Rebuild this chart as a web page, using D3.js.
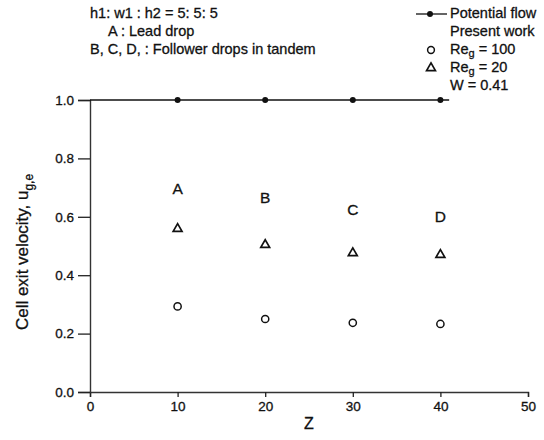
<!DOCTYPE html>
<html>
<head>
<meta charset="utf-8">
<script src="https://cdn.jsdelivr.net/npm/d3@7"></script>
<style>
  body { margin: 0; background: #fff; }
  text { font-family: "Liberation Sans", Arial, sans-serif; fill: #111; stroke: #111; stroke-width: 0.3px; }
</style>
</head>
<body>
<div id="chart"></div>
<script>
// data
var zPoints = [10, 20, 30, 40];
var potentialU = [1.0, 1.0, 1.0, 1.0];
var potentialLineZ = [0, 41];
var re100U = [0.293, 0.25, 0.237, 0.233];
var re20U = [0.559, 0.504, 0.476, 0.47];
var dropLabels = ["A", "B", "C", "D"];
var dropLabelU = [0.678, 0.647, 0.606, 0.582];
var xTicks = [0, 10, 20, 30, 40, 50];
var yTicks = [0.0, 0.2, 0.4, 0.6, 0.8, 1.0];

var width = 544, height = 440;
var margin = {left: 90, right: 16, top: 100, bottom: 48};

var svg = d3.select("#chart").append("svg")
    .attr("width", width)
    .attr("height", height);

var x = d3.scaleLinear().domain([0, 50]).range([margin.left, width - margin.right]);
var y = d3.scaleLinear().domain([0, 1]).range([height - margin.bottom, margin.top]);

// axes
var xAxis = d3.axisBottom(x).tickValues(xTicks).tickFormat(d3.format("d")).tickSize(5).tickPadding(4);
var yAxis = d3.axisLeft(y).tickValues(yTicks).tickFormat(d3.format(".1f")).tickSize(12).tickPadding(4);

var gx = svg.append("g")
    .attr("transform", "translate(0," + y(0) + ")")
    .call(xAxis);
var gy = svg.append("g")
    .attr("transform", "translate(" + x(0) + ",0)")
    .call(yAxis);

[gx, gy].forEach(function(g) {
    g.select(".domain").attr("stroke", "#333").attr("stroke-width", 1.4);
    g.selectAll(".tick line").attr("stroke", "#222").attr("stroke-width", 1.3);
    g.selectAll(".tick text")
        .style("font-family", "'Liberation Sans', Arial, sans-serif")
        .style("font-size", "13.5px")
        .attr("fill", "#111");
});

// axis titles
svg.append("text")
    .attr("x", x(25))
    .attr("y", 429)
    .attr("text-anchor", "middle")
    .style("font-size", "16px")
    .text("Z");

var ytitle = svg.append("text")
    .attr("transform", "translate(28,252) rotate(-90)")
    .attr("text-anchor", "middle")
    .style("font-size", "17px");
ytitle.append("tspan").text("Cell exit velocity, u");
ytitle.append("tspan").attr("dy", 5).style("font-size", "12px").text("g,e");

// potential flow line
svg.append("path")
    .datum(potentialLineZ)
    .attr("d", d3.line().x(function(d) { return x(d); }).y(y(1.0)))
    .attr("fill", "none")
    .attr("stroke", "#111")
    .attr("stroke-width", 1.3);

svg.selectAll(".pf")
    .data(zPoints)
    .enter().append("circle")
    .attr("cx", function(d) { return x(d); })
    .attr("cy", function(d, i) { return y(potentialU[i]); })
    .attr("r", 3)
    .attr("fill", "#111");

// Re_g = 100 circles
svg.selectAll(".re100")
    .data(zPoints)
    .enter().append("circle")
    .attr("cx", function(d) { return x(d); })
    .attr("cy", function(d, i) { return y(re100U[i]); })
    .attr("r", 3.6)
    .attr("fill", "none")
    .attr("stroke", "#111")
    .attr("stroke-width", 1.5);

// Re_g = 20 triangles
var tri = d3.symbol().type(d3.symbolTriangle).size(34);
svg.selectAll(".re20")
    .data(zPoints)
    .enter().append("path")
    .attr("d", tri)
    .attr("transform", function(d, i) { return "translate(" + x(d) + "," + y(re20U[i]) + ")"; })
    .attr("fill", "none")
    .attr("stroke", "#111")
    .attr("stroke-width", 1.7);

// drop labels (baseline at value)
svg.selectAll(".lab")
    .data(zPoints)
    .enter().append("text")
    .attr("x", function(d) { return x(d); })
    .attr("y", function(d, i) { return y(dropLabelU[i]); })
    .attr("text-anchor", "middle")
    .style("font-size", "15.5px")
    .text(function(d, i) { return dropLabels[i]; });

// header notes
var notes = [
    {t: "h1: w1 : h2 = 5: 5: 5", x: 90, y: 18},
    {t: "A : Lead drop", x: 108, y: 36},
    {t: "B, C, D, : Follower drops in tandem", x: 90, y: 54}
];
svg.selectAll(".note")
    .data(notes)
    .enter().append("text")
    .attr("x", function(d) { return d.x; })
    .attr("y", function(d) { return d.y; })
    .style("font-size", "14.5px")
    .text(function(d) { return d.t; });

// legend
var lg = svg.append("g");
lg.append("line").attr("x1", 416).attr("x2", 447).attr("y1", 14).attr("y2", 14)
    .attr("stroke", "#111").attr("stroke-width", 1.3);
lg.append("circle").attr("cx", 430).attr("cy", 14).attr("r", 3).attr("fill", "#111");
lg.append("text").attr("x", 450).attr("y", 18).style("font-size", "14.5px").text("Potential flow");
lg.append("text").attr("x", 450).attr("y", 36).style("font-size", "14.5px").text("Present work");
lg.append("circle").attr("cx", 431).attr("cy", 50).attr("r", 3.4)
    .attr("fill", "none").attr("stroke", "#111").attr("stroke-width", 1.5);
var t1 = lg.append("text").attr("x", 450).attr("y", 54).style("font-size", "14.5px");
t1.append("tspan").text("Re");
t1.append("tspan").attr("dy", 3).style("font-size", "11px").text("g");
t1.append("tspan").attr("dy", -3).text(" = 100");
lg.append("path").attr("d", tri).attr("transform", "translate(431,68)")
    .attr("fill", "none").attr("stroke", "#111").attr("stroke-width", 1.7);
var t2 = lg.append("text").attr("x", 450).attr("y", 72).style("font-size", "14.5px");
t2.append("tspan").text("Re");
t2.append("tspan").attr("dy", 3).style("font-size", "11px").text("g");
t2.append("tspan").attr("dy", -3).text(" = 20");
lg.append("text").attr("x", 450).attr("y", 90).style("font-size", "14.5px").text("W = 0.41");
</script>
</body>
</html>
